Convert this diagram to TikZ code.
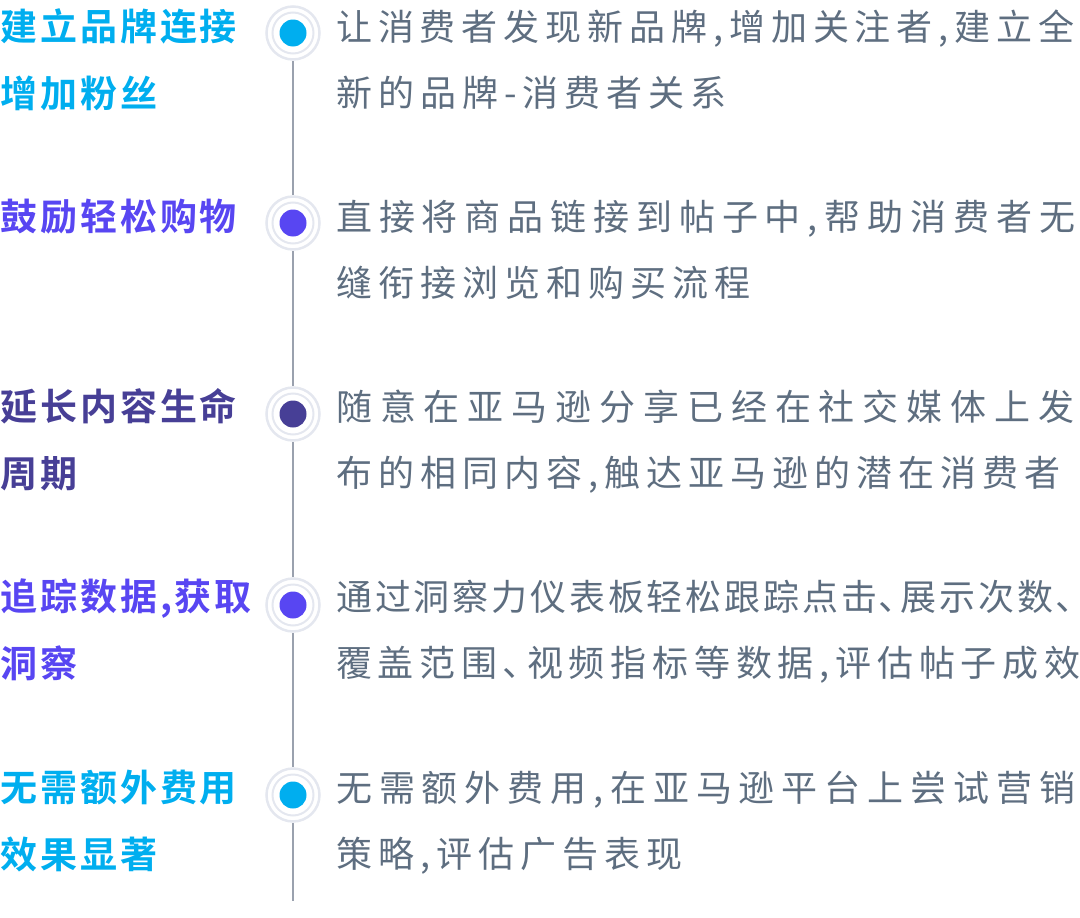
\documentclass[tikz,border=0pt]{standalone}
\usepackage{fontspec}
\newfontfamily\cjkbody{Noto Sans CJK SC}[LetterSpace=16.7]
\newfontfamily\cjktitle{Noto Sans CJK SC Bold}[LetterSpace=8]
\usetikzlibrary{positioning}
% first lines are spread out to the full column width
\newcommand{\spread}[2]{{\addfontfeature{LetterSpace=#1}#2}}
\definecolor{skyc}{HTML}{00AEEF}
\definecolor{violetc}{HTML}{5846F2}
\definecolor{indigoc}{HTML}{473F96}
\definecolor{bodyc}{HTML}{5E6E80}
\definecolor{railc}{HTML}{9AA1AE}
\definecolor{ringc}{HTML}{E4E7EF}
\tikzstyle{title} = [anchor=base west, inner sep=0pt,
align=left,
font=\cjktitle\fontsize{37}{67}\selectfont]
\tikzstyle{body} = [anchor=base west, inner sep=0pt,
align=left,
text=bodyc,
font=\cjkbody\fontsize{36}{66}\selectfont]
\tikzstyle{marker} = [circle, minimum size=56pt, inner sep=0pt]
\tikzstyle{rail} = [line width=2pt, draw=railc]
\tikzstyle{ring} = [draw=ringc, line width=2.5pt]

\begin{document}
\begin{tikzpicture}[x=1pt, y=-1pt]
    \useasboundingbox (0,0) rectangle (1080,918);

    % markers on the rail
    \node (m1) [marker] at (293,33) {};
    \node (m2) [marker] at (293,223) {};
    \node (m3) [marker] at (293,414) {};
    \node (m4) [marker] at (293,605) {};
    \node (m5) [marker] at (293,795) {};
    \coordinate (railend) at (293,901);

    \draw [rail] (m1) -- (m2);
    \draw [rail] (m2) -- (m3);
    \draw [rail] (m3) -- (m4);
    \draw [rail] (m4) -- (m5);
    \draw [rail] (m5) -- (railend);

    \foreach \m/\c in {m1/skyc, m2/violetc, m3/indigoc, m4/violetc, m5/skyc} {
        \draw [ring] (\m.center) circle (26.5);
        \draw [ring, line width=2pt] (\m.center) circle (20.5);
        \fill [\c] (\m.center) circle (13.5);
    }

    % left: headings (base = last line)
    \node (t1) [title, text=skyc] at (0,107) {建立品牌连接\\增加粉丝};
    \node (t2) [title, text=violetc] at (0,230) {鼓励轻松购物};
    \node (t3) [title, text=indigoc] at (0,487.5) {延长内容生命\\周期};
    \node (t4) [title, text=violetc] at (0,677.5) {追踪数据,获取\\洞察};
    \node (t5) [title, text=skyc] at (0,868) {无需额外费用\\效果显著};

    % right: descriptions
    \node (d1) [body] at (336,106) {\spread{16.4}{让消费者发现新品牌,增加关注者,建立全}\\新的品牌-消费者关系};
    \node (d2) [body] at (336,296) {\spread{19.1}{直接将商品链接到帖子中,帮助消费者无}\\缝衔接浏览和购买流程};
    \node (d3) [body] at (336,486.5) {\spread{21.9}{随意在亚马逊分享已经在社交媒体上发}\\布的相同内容,触达亚马逊的潜在消费者};
    \node (d4) [body] at (336,676.5) {\spread{7.9}{通过洞察力仪表板轻松跟踪点击､展示次数､}\\\spread{16.1}{覆盖范围､视频指标等数据,评估帖子成效}};
    \node (d5) [body] at (336,867) {\spread{19.1}{无需额外费用,在亚马逊平台上尝试营销}\\策略,评估广告表现};

\end{tikzpicture}
\end{document}
